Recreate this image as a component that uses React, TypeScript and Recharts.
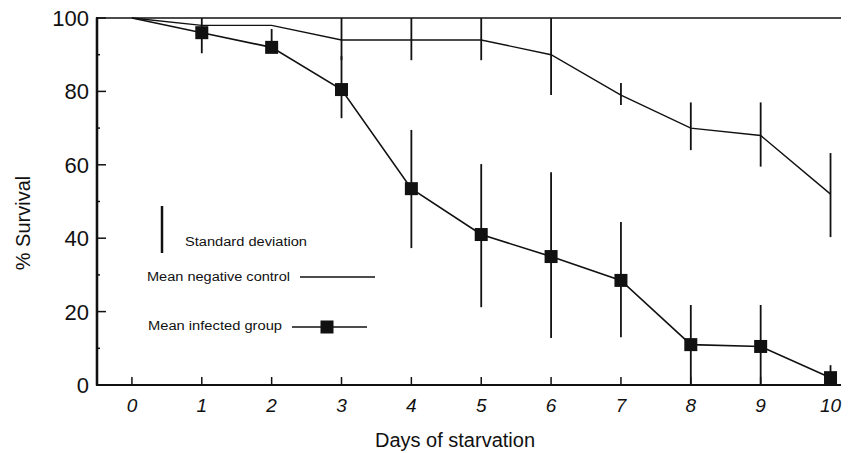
import React from "react";
import { ComposedChart, Line, XAxis, YAxis, ErrorBar, ReferenceLine } from "recharts";

const days = [0, 1, 2, 3, 4, 5, 6, 7, 8, 9, 10];
const controlMean = [100, 98, 98, 94, 94, 94, 90, 79, 70, 68, 52];
// [minus, plus] standard deviation
const controlSd = [[0, 0], [0, 0], [0, 0], [5.5, 6], [5.5, 6], [5.5, 6], [11, 10], [2.7, 3.3], [6, 7], [8.5, 9], [11.7, 11.2]];
const infectedMean = [100, 96, 92, 80.5, 53.5, 41, 35, 28.5, 11, 10.5, 2];
const infectedSd = [[0, 0], [5.6, 4], [1, 5], [7.8, 9.1], [16.2, 16], [19.8, 19.2], [22.2, 23], [15.5, 15.9], [11, 10.8], [10.5, 11.3], [2, 3.4]];
const yTicks = [0, 10, 20, 30, 40, 50, 60, 70, 80, 90, 100];
const xMin = -0.5;

const data = days.map((d, i) => ({
  day: d,
  control: controlMean[i],
  controlErr: controlSd[i],
  infected: infectedMean[i],
  infectedErr: infectedSd[i],
}));

const INK = "#111";
const FONT = "'Liberation Sans', Arial, sans-serif";
const TICK_OFF = 8; // default tickSize 6 + tickMargin 2

function YTick(props: any) {
  const { x, y, payload } = props;
  const ax = x + TICK_OFF;
  const major = payload.value % 20 === 0;
  return (
    <g>
      <line x1={ax - 1} x2={ax + (major ? 9 : 3)} y1={y} y2={y} stroke={INK} strokeWidth={1.5} />
      {major && (
        <text x={ax - 8} y={y + 8} textAnchor="end" fontSize={22} fontFamily={FONT} fill={INK}>
          {payload.value}
        </text>
      )}
    </g>
  );
}

function XTick(props: any) {
  const { x, y, payload } = props;
  const ay = y - TICK_OFF;
  return (
    <g>
      <line x1={x} x2={x} y1={ay} y2={ay - 8} stroke={INK} strokeWidth={1.5} />
      <text x={x} y={ay + 27} textAnchor="middle" fontSize={19} fontStyle="italic" fontFamily={FONT} fill={INK}>
        {payload.value}
      </text>
    </g>
  );
}

function SquareDot(props: any) {
  const { cx, cy, payload } = props;
  if (payload.day === 0) return <g key={payload.day} />;
  return <rect key={payload.day} x={cx - 6.5} y={cy - 6.5} width={13} height={13} fill={INK} />;
}

export default function App() {
  return (
    <div style={{ position: "absolute", left: 0, top: 0, width: 856, height: 453, background: "#fff" }}>
      <ComposedChart width={856} height={453} data={data} margin={{ top: 18, right: 15, bottom: 0, left: 0 }}>
        <XAxis
          dataKey="day"
          type="number"
          domain={[xMin, 10.15]}
          ticks={days}
          height={68}
          tickLine={false}
          tick={<XTick />}
          stroke={INK}
          axisLine={{ stroke: INK, strokeWidth: 2.2 }}
          interval={0}
        />
        <YAxis
          type="number"
          domain={[0, 100]}
          ticks={yTicks}
          width={97}
          tickLine={false}
          tick={<YTick />}
          stroke={INK}
          axisLine={{ stroke: INK, strokeWidth: 2.2 }}
          interval={0}
        />
        <ReferenceLine x={xMin} stroke={INK} strokeWidth={2.2} />
        <ReferenceLine y={100} stroke={INK} strokeWidth={1.6} />
        <Line
          dataKey="control"
          stroke={INK}
          strokeWidth={1.4}
          dot={false}
          activeDot={false}
          isAnimationActive={false}
        >
          <ErrorBar dataKey="controlErr" direction="y" width={0} stroke={INK} strokeWidth={1.8} isAnimationActive={false} />
        </Line>
        <Line
          dataKey="infected"
          stroke={INK}
          strokeWidth={1.6}
          dot={<SquareDot />}
          activeDot={false}
          isAnimationActive={false}
        >
          <ErrorBar dataKey="infectedErr" direction="y" width={0} stroke={INK} strokeWidth={1.8} isAnimationActive={false} />
        </Line>
      </ComposedChart>
      <svg width={856} height={453} style={{ position: "absolute", left: 0, top: 0, pointerEvents: "none" }}>
        {/* left frame edge */}
        <line x1={97} x2={97} y1={17} y2={386} stroke={INK} strokeWidth={2.2} />
        <text
          transform="translate(30,223) rotate(-90)"
          textAnchor="middle"
          fontSize={20}
          fontFamily={FONT}
          fill={INK}
        >
          % Survival
        </text>
        <text x={455} y={447} textAnchor="middle" fontSize={20} fontFamily={FONT} fill={INK}>
          Days of starvation
        </text>
        {/* legend */}
        <line x1={162} x2={162} y1={206} y2={253} stroke={INK} strokeWidth={2.5} />
        <text x={185} y={246} fontSize={12} fontFamily={FONT} fill={INK} textLength={122} lengthAdjust="spacingAndGlyphs">
          Standard deviation
        </text>
        <text x={147} y={281} fontSize={12} fontFamily={FONT} fill={INK} textLength={143} lengthAdjust="spacingAndGlyphs">
          Mean negative control
        </text>
        <line x1={300} x2={375} y1={277} y2={277} stroke={INK} strokeWidth={1.3} />
        <text x={148} y={330} fontSize={12} fontFamily={FONT} fill={INK} textLength={134} lengthAdjust="spacingAndGlyphs">
          Mean infected group
        </text>
        <line x1={292} x2={367} y1={327} y2={327} stroke={INK} strokeWidth={1.4} />
        <rect x={320.5} y={320.5} width={13} height={13} fill={INK} />
      </svg>
    </div>
  );
}
